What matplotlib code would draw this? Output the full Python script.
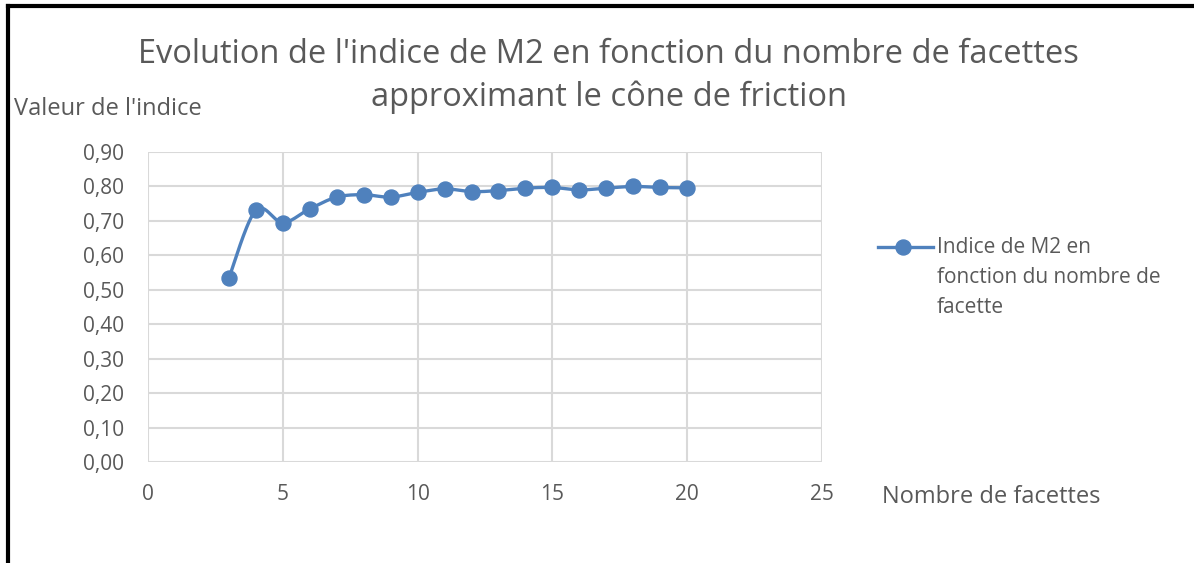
import numpy as np
import matplotlib
matplotlib.use("Agg")
import matplotlib.pyplot as plt
from matplotlib.lines import Line2D

# Data: index value of M2 versus number of facets of the friction cone
facettes = [3, 4, 5, 6, 7, 8, 9, 10, 11, 12, 13, 14, 15, 16, 17, 18, 19, 20]
indice = [0.534, 0.731, 0.695, 0.735, 0.769, 0.776, 0.769, 0.783, 0.793, 0.785,
          0.788, 0.795, 0.797, 0.790, 0.795, 0.800, 0.797, 0.796]

x_ticks = [0, 5, 10, 15, 20, 25]
y_ticks = [0.0, 0.1, 0.2, 0.3, 0.4, 0.5, 0.6, 0.7, 0.8, 0.9]

title_lines = ["Evolution de l'indice de M2 en fonction du nombre de facettes",
               "approximant le cône de friction"]
xlabel = "Nombre de facettes"
ylabel = "Valeur de l'indice"
legend_lines = ["Indice de M2 en", "fonction du nombre de", "facette"]

BLUE = "#4F81BD"
GREY_TXT = "#595959"
GRID = "#D9D9D9"
FONT = "Open Sans"
W, H = 1194, 563


def fx(px):
    return px / W


def fy(py):
    return 1 - py / H


def smooth(xs, ys, n=30):
    """Catmull-Rom style smoothing through every point."""
    xs = np.asarray(xs, float)
    ys = np.asarray(ys, float)
    px = np.concatenate([[xs[0]], xs, [xs[-1]]])
    py = np.concatenate([[ys[0]], ys, [ys[-1]]])
    out_x, out_y = [], []
    for i in range(1, len(px) - 2):
        p0 = np.array([px[i - 1], py[i - 1]])
        p1 = np.array([px[i], py[i]])
        p2 = np.array([px[i + 1], py[i + 1]])
        p3 = np.array([px[i + 2], py[i + 2]])
        c1 = p1 + (p2 - p0) / 6.0
        c2 = p2 - (p3 - p1) / 6.0
        t = np.linspace(0, 1, n)[:, None]
        pts = ((1 - t) ** 3) * p1 + 3 * ((1 - t) ** 2) * t * c1 + 3 * (1 - t) * t ** 2 * c2 + t ** 3 * p2
        out_x.extend(pts[:, 0])
        out_y.extend(pts[:, 1])
    return np.array(out_x), np.array(out_y)


fig = plt.figure(figsize=(W / 100, H / 100), dpi=100)
ax = fig.add_axes([fx(148), fy(462), (822 - 148) / W, (462 - 152) / H])

sx, sy = smooth(facettes, indice)
ax.plot(sx, sy, color=BLUE, lw=2.4, solid_capstyle="round", zorder=3)
ax.plot(facettes, indice, "o", color=BLUE, ms=10.8, zorder=4)

ax.set_xlim(0, 25)
ax.set_ylim(0, 0.9)
ax.set_xticks(x_ticks)
ax.set_yticks(y_ticks)
ax.set_xticklabels([str(v) for v in x_ticks], family=FONT, fontsize=15, color=GREY_TXT)
ax.set_yticklabels([f"{v:.2f}".replace(".", ",") for v in y_ticks], family=FONT, fontsize=15, color=GREY_TXT)
ax.tick_params(axis="y", length=0, pad=17)
ax.tick_params(axis="x", length=0, pad=16)
ax.grid(True, color=GRID, lw=1.5)
ax.set_axisbelow(True)
for s in ax.spines.values():
    s.set_visible(False)

fig.text(fx(608), fy(63), title_lines[0], ha="center", va="baseline", family=FONT,
         fontsize=23.5, color=GREY_TXT)
fig.text(fx(609), fy(106), title_lines[1], ha="center", va="baseline", family=FONT,
         fontsize=23.5, color=GREY_TXT)
fig.text(fx(14), fy(115), ylabel, ha="left", va="baseline", family=FONT,
         fontsize=17, color=GREY_TXT)
fig.text(fx(882), fy(503), xlabel, ha="left", va="baseline", family=FONT,
         fontsize=17, color=GREY_TXT)

# Legend drawn by hand to the right of the plot
fig.add_artist(Line2D([fx(878), fx(933)], [fy(247)] * 2, color=BLUE, lw=2.4,
                      transform=fig.transFigure))
fig.add_artist(Line2D([fx(903)], [fy(247)], marker="o", ms=10.8, color=BLUE,
                      transform=fig.transFigure))
for txt, base in zip(legend_lines, [253, 283, 313]):
    fig.text(fx(937), fy(base), txt, ha="left", va="baseline", family=FONT,
             fontsize=15, color=GREY_TXT)

# Outer frame (left and top edges)
fig.add_artist(Line2D([fx(8), fx(8)], [0, fy(6)], color="black", lw=3,
                      transform=fig.transFigure))
fig.add_artist(Line2D([fx(8), 1], [fy(6)] * 2, color="black", lw=3,
                      transform=fig.transFigure))

fig.savefig("out.png", dpi=100, facecolor="white")
